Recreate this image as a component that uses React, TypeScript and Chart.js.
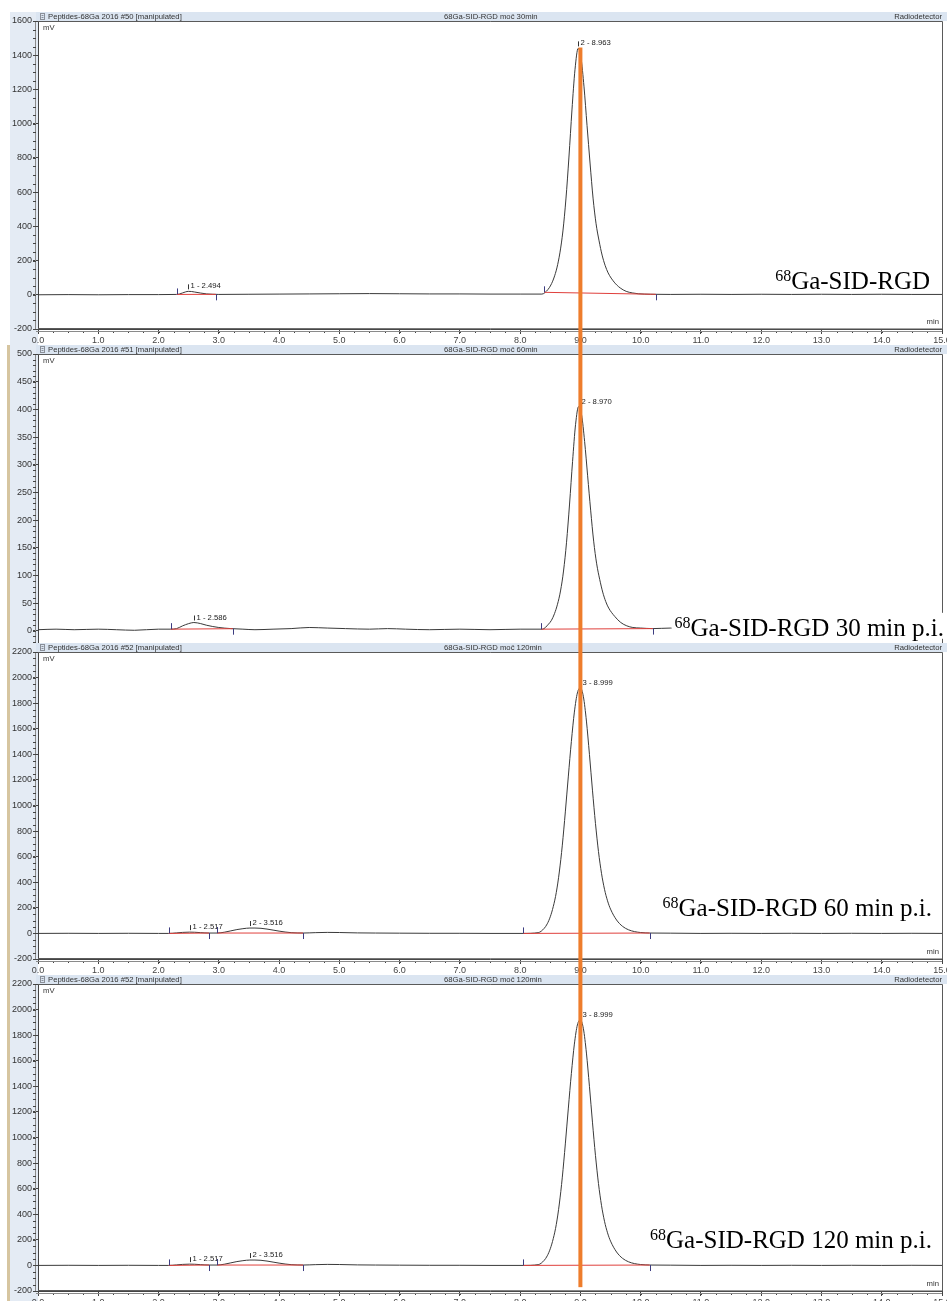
import React, { useEffect, useRef } from 'react';
import { Chart, registerables } from 'chart.js';

Chart.register(...registerables);

// ---------- shared axis data ----------
const X_TICKS = [0, 1, 2, 3, 4, 5, 6, 7, 8, 9, 10, 11, 12, 13, 14, 15];
const X_MINOR_STEP = 0.25;
const ORANGE_RT = 9.0;
const ORANGE_TOP_MV = 1445;
const ORANGE_BOTTOM_MV = -170;

const P1_Y_TICKS = [-200, 0, 200, 400, 600, 800, 1000, 1200, 1400, 1600];
const P2_Y_TICKS = [0, 50, 100, 150, 200, 250, 300, 350, 400, 450, 500];
const P3_Y_TICKS = [-200, 0, 200, 400, 600, 800, 1000, 1200, 1400, 1600, 1800, 2000, 2200];

const HEADER_LEFT = [
  'Peptides-68Ga 2016 #50 [manipulated]',
  'Peptides-68Ga 2016 #51 [manipulated]',
  'Peptides-68Ga 2016 #52 [manipulated]',
  'Peptides-68Ga 2016 #52 [manipulated]',
];
const HEADER_CENTER = [
  '68Ga-SID-RGD moč 30min',
  '68Ga-SID-RGD moč 60min',
  '68Ga-SID-RGD moč 120min',
  '68Ga-SID-RGD moč 120min',
];
const HEADER_RIGHT = 'Radiodetector';
const ISOTOPE = '68';
const SAMPLE_LABELS = [
  'Ga-SID-RGD',
  'Ga-SID-RGD 30 min p.i.',
  'Ga-SID-RGD 60 min p.i.',
  'Ga-SID-RGD 120 min p.i.',
];

// ---------- panel 1 (#50) ----------
const P1_TIME = [0, 0.5, 1.0, 1.5, 2.0, 2.3, 2.35, 2.4, 2.45, 2.494, 2.55, 2.6, 2.7, 2.8, 2.9, 3.0, 3.5, 4.0, 4.5, 5.0, 5.5, 6.0, 6.5, 7.0, 7.5, 8.0, 8.36, 8.46, 8.51, 8.56, 8.61, 8.66, 8.71, 8.76, 8.81, 8.86, 8.91, 8.963, 9.01, 9.06, 9.11, 9.16, 9.21, 9.26, 9.31, 9.36, 9.41, 9.46, 9.56, 9.66, 9.76, 9.86, 9.96, 10.16, 10.5, 11.0, 11.5, 12.0, 12.5, 13.0, 13.5, 14.0, 14.5, 15.0];
const P1_MV = [0, 1, 0, 1, 1, 2, 5, 11, 17, 20, 19, 16, 10, 5, 3, 2, 3, 4, 5, 6, 7, 6, 5, 5, 4, 4, 4, 30, 57, 98, 157, 245, 373, 560, 805, 1080, 1315, 1440, 1385, 1215, 990, 770, 565, 415, 315, 232, 172, 128, 74, 40, 20, 11, 6, 3, 2, 3, 2, 3, 2, 3, 2, 3, 2, 2];
const P1_PEAK_NAMES = ['1 - 2.494', '2 - 8.963'];
const P1_PEAK_RT = [2.494, 8.963];
const P1_PEAK_HEIGHT = [20, 1440];
const P1_PEAK_START = [2.3, 8.4];
const P1_PEAK_END = [2.95, 10.25];

// ---------- panel 2 (#51) ----------
const P2_TIME = [0, 0.3, 0.6, 1.0, 1.3, 1.6, 2.0, 2.2, 2.3, 2.4, 2.5, 2.586, 2.7, 2.8, 3.0, 3.2, 3.4, 3.6, 3.9, 4.2, 4.5, 4.8, 5.1, 5.5, 5.8, 6.1, 6.5, 7.0, 7.5, 8.0, 8.37, 8.47, 8.52, 8.57, 8.62, 8.67, 8.72, 8.77, 8.82, 8.87, 8.92, 8.97, 9.02, 9.07, 9.12, 9.17, 9.22, 9.27, 9.32, 9.37, 9.42, 9.47, 9.57, 9.67, 9.77, 9.87, 10.0, 10.2, 10.5, 10.8, 11.2, 11.6, 12.0, 12.4, 12.8, 13.2, 13.6, 14.0, 14.4, 14.8, 15.0];
const P2_MV = [2, 3, 2, 3, 2, 1, 3, 3, 4, 9, 13, 15, 13, 10, 6, 4, 3, 2, 3, 4, 6, 5, 4, 3, 4, 3, 2, 3, 2, 3, 3, 12, 19, 31, 48, 72, 108, 160, 229, 306, 373, 405, 390, 342, 280, 218, 162, 121, 93, 70, 53, 41, 26, 15, 9, 6, 5, 4, 5, 3, 4, 6, 4, 3, 5, 4, 3, 5, 3, 4, 4];
const P2_PEAK_NAMES = ['1 - 2.586', '2 - 8.970'];
const P2_PEAK_RT = [2.586, 8.97];
const P2_PEAK_HEIGHT = [15, 405];
const P2_PEAK_START = [2.2, 8.35];
const P2_PEAK_END = [3.23, 10.2];

// ---------- panels 3 & 4 (#52) ----------
const P3_TIME = [0, 0.5, 1.0, 1.5, 2.0, 2.17, 2.3, 2.4, 2.517, 2.6, 2.7, 2.84, 2.97, 3.1, 3.2, 3.3, 3.4, 3.516, 3.6, 3.7, 3.8, 3.9, 4.0, 4.1, 4.2, 4.4, 4.6, 4.8, 5.0, 5.3, 5.6, 6.0, 6.5, 7.0, 7.5, 8.05, 8.30, 8.40, 8.45, 8.50, 8.55, 8.60, 8.65, 8.70, 8.75, 8.80, 8.85, 8.90, 8.95, 8.999, 9.05, 9.10, 9.15, 9.20, 9.25, 9.30, 9.35, 9.40, 9.45, 9.50, 9.60, 9.70, 9.80, 9.90, 10.00, 10.15, 10.5, 11.0, 11.5, 12.0, 12.5, 13.0, 13.5, 14.0, 14.5, 15.0];
const P3_MV = [0, 1, 0, 1, 0, 0, 4, 8, 10, 9, 6, 3, 3, 10, 20, 30, 37, 42, 42, 40, 34, 26, 18, 11, 6, 3, 6, 8, 7, 4, 3, 2, 1, 1, 0, 0, 6, 40, 75, 130, 210, 320, 480, 690, 950, 1230, 1500, 1730, 1880, 1920, 1850, 1660, 1400, 1120, 860, 640, 470, 345, 255, 190, 105, 55, 28, 14, 7, 3, 2, 0, 1, 0, 1, 0, 1, 0, 1, 0];
const P3_PEAK_NAMES = ['1 - 2.517', '2 - 3.516', '3 - 8.999'];
const P3_PEAK_RT = [2.517, 3.516, 8.999];
const P3_PEAK_HEIGHT = [10, 42, 1920];
const P3_PEAK_START = [2.17, 2.97, 8.05];
const P3_PEAK_END = [2.84, 4.4, 10.15];

const SANS = '"Liberation Sans", Arial, sans-serif';
const SERIF = '"Liberation Serif", "Times New Roman", serif';
const W = 947;
const HEADER_H = 9;
const AXIS_W = 38;

type Peaks = { names: string[]; rt: number[]; height: number[]; start: number[]; end: number[] };
type Layout = {
  height: number;
  headerY: number;
  plotBottom: number;
  yMin: number;
  yMax: number;
  yMinorStep: number;
  showX: boolean;
  tan: boolean;
  labelRight: number;
  labelDy: number;
  orangeTop?: number;
  orangeBottom?: number;
};

function interp(time: number[], mv: number[], t: number) {
  for (let i = 1; i < time.length; i++) {
    if (t <= time[i]) {
      const f = (t - time[i - 1]) / (time[i] - time[i - 1]);
      return mv[i - 1] + f * (mv[i] - mv[i - 1]);
    }
  }
  return mv[mv.length - 1];
}

function Panel(props: { idx: number; time: number[]; mv: number[]; yTicks: number[]; peaks: Peaks; layout: Layout }) {
  const { idx, time, mv, yTicks, peaks, layout } = props;
  const ref = useRef<HTMLCanvasElement>(null);

  useEffect(() => {
    const canvas = ref.current;
    if (!canvas) return;
    const hy = layout.headerY;
    const plotTop = hy + HEADER_H;
    const xh = layout.height - layout.plotBottom;

    const panelPlugin = {
      id: 'panel' + idx,
      beforeDraw(chart: any) {
        const ctx = chart.ctx as CanvasRenderingContext2D;
        const { left, top } = chart.chartArea;
        const H = chart.height;
        ctx.save();
        ctx.fillStyle = '#ffffff';
        ctx.fillRect(0, 0, W, H);
        ctx.fillStyle = '#e4ebf4';
        ctx.fillRect(10, hy, left - 10, H - hy);
        if (layout.tan) {
          ctx.fillStyle = '#d6c5a0';
          ctx.fillRect(7, 0, 3, H);
        }
        // header strip
        ctx.fillStyle = '#dbe5f1';
        ctx.fillRect(left - 2, hy, W - left + 2, top - hy);
        ctx.strokeStyle = '#8a8f98';
        ctx.lineWidth = 1;
        ctx.strokeRect(40.5, hy + 1.5, 4, 6);
        ctx.beginPath();
        ctx.moveTo(41.5, hy + 3.5); ctx.lineTo(43.5, hy + 3.5);
        ctx.moveTo(41.5, hy + 5.5); ctx.lineTo(43.5, hy + 5.5);
        ctx.stroke();
        ctx.fillStyle = '#333';
        ctx.font = `7.7px ${SANS}`;
        ctx.textBaseline = 'middle';
        ctx.textAlign = 'left';
        ctx.fillText(HEADER_LEFT[idx], 48, hy + 4.8);
        ctx.fillText(HEADER_CENTER[idx], 444, hy + 4.8);
        ctx.textAlign = 'right';
        ctx.fillText(HEADER_RIGHT, 942, hy + 4.8);
        ctx.restore();
      },
      afterDatasetsDraw(chart: any) {
        const ctx = chart.ctx as CanvasRenderingContext2D;
        const { left, top, right, bottom } = chart.chartArea;
        const xs = chart.scales.x;
        const ys = chart.scales.y;
        ctx.save();
        // plot frame
        ctx.strokeStyle = '#5a5a5a';
        ctx.lineWidth = 1;
        ctx.beginPath();
        ctx.moveTo(left, top + 0.5); ctx.lineTo(right + 0.5, top + 0.5);
        ctx.lineTo(right + 0.5, bottom);
        if (layout.showX) ctx.lineTo(left, bottom - 0.5);
        ctx.stroke();
        ctx.strokeStyle = '#8a8a8a';
        ctx.beginPath();
        ctx.moveTo(left - 2.5, top); ctx.lineTo(left - 2.5, bottom);
        ctx.stroke();
        // minor y ticks
        ctx.strokeStyle = '#444';
        ctx.beginPath();
        for (let v = layout.yMin; v <= layout.yMax + 1e-6; v += 1) {
          const rv = Math.round(v);
          if (rv % layout.yMinorStep !== 0) continue;
          const y = Math.round(ys.getPixelForValue(rv)) + 0.5;
          if (y < top || y > bottom) continue;
          ctx.moveTo(left - 5, y); ctx.lineTo(left - 2, y);
        }
        ctx.stroke();
        // minor x ticks
        if (layout.showX) {
          ctx.beginPath();
          for (let k = 0; k <= 60; k++) {
            const v = k * X_MINOR_STEP;
            const x = Math.round(xs.getPixelForValue(v)) + 0.5;
            ctx.moveTo(x, bottom + 2); ctx.lineTo(x, bottom + 4);
          }
          ctx.stroke();
          ctx.strokeStyle = '#8a8a8a';
          ctx.beginPath();
          ctx.moveTo(left - 2, bottom + 2.5); ctx.lineTo(right, bottom + 2.5);
          ctx.stroke();
        }
        // peak baselines and delimiters
        for (let i = 0; i < peaks.names.length; i++) {
          const sx = xs.getPixelForValue(peaks.start[i]);
          const ex = xs.getPixelForValue(peaks.end[i]);
          const sy = ys.getPixelForValue(interp(time, mv, peaks.start[i]));
          const ey = ys.getPixelForValue(interp(time, mv, peaks.end[i]));
          ctx.strokeStyle = '#e0403c';
          ctx.lineWidth = 1;
          ctx.beginPath();
          ctx.moveTo(sx, sy); ctx.lineTo(ex, ey);
          ctx.stroke();
          ctx.strokeStyle = '#3c3c80';
          ctx.beginPath();
          ctx.moveTo(Math.round(sx) + 0.5, sy); ctx.lineTo(Math.round(sx) + 0.5, sy - 6);
          ctx.moveTo(Math.round(ex) + 0.5, ey); ctx.lineTo(Math.round(ex) + 0.5, ey + 6);
          ctx.stroke();
          const ax = Math.round(xs.getPixelForValue(peaks.rt[i])) + 0.5;
          const ay = ys.getPixelForValue(peaks.height[i]);
          ctx.strokeStyle = '#333';
          ctx.beginPath();
          ctx.moveTo(ax, ay - 2); ctx.lineTo(ax, ay - 7);
          ctx.stroke();
          ctx.fillStyle = '#222';
          ctx.font = `7.7px ${SANS}`;
          ctx.textAlign = 'left';
          ctx.textBaseline = 'middle';
          ctx.fillText(peaks.names[i], ax + 2, ay - 5);
        }
        // units
        ctx.fillStyle = '#333';
        ctx.font = `7.7px ${SANS}`;
        ctx.textAlign = 'left';
        ctx.textBaseline = 'middle';
        ctx.fillText('mV', left + 5, top + 7);
        if (layout.showX) {
          ctx.textAlign = 'right';
          ctx.fillText('min', right - 3, bottom - 7);
        }
        // sample label with superscript isotope
        const zeroY = ys.getPixelForValue(0);
        const cy = zeroY + layout.labelDy;
        const base = cy + 8;
        ctx.font = `25px ${SERIF}`;
        const wRest = ctx.measureText(SAMPLE_LABELS[idx]).width;
        ctx.font = `16px ${SERIF}`;
        const wSup = ctx.measureText(ISOTOPE).width;
        const x0 = layout.labelRight - wRest - wSup;
        ctx.fillStyle = '#ffffff';
        ctx.fillRect(x0 - 3, cy - 15, wRest + wSup + 6, 26);
        ctx.fillStyle = '#000';
        ctx.textAlign = 'left';
        ctx.textBaseline = 'alphabetic';
        ctx.fillText(ISOTOPE, x0, base - 8);
        ctx.font = `25px ${SERIF}`;
        ctx.fillText(SAMPLE_LABELS[idx], x0 + wSup, base);
        ctx.restore();
      },
      afterDraw(chart: any) {
        const ctx = chart.ctx as CanvasRenderingContext2D;
        const xs = chart.scales.x;
        const ys = chart.scales.y;
        const x = xs.getPixelForValue(ORANGE_RT);
        const y0 = layout.orangeTop !== undefined ? ys.getPixelForValue(layout.orangeTop) : 0;
        const y1 = layout.orangeBottom !== undefined ? ys.getPixelForValue(layout.orangeBottom) : chart.height;
        ctx.save();
        ctx.fillStyle = '#ee7d2c';
        ctx.fillRect(x - 2, y0, 4, y1 - y0);
        ctx.restore();
      },
    };

    const chart = new Chart(canvas, {
      type: 'line',
      data: {
        datasets: [
          {
            data: time.map((t, i) => ({ x: t, y: mv[i] })),
            borderColor: '#3a3a3a',
            borderWidth: 1,
            pointRadius: 0,
            fill: false,
            cubicInterpolationMode: 'monotone',
          },
        ],
      },
      options: {
        animation: false,
        responsive: false,
        maintainAspectRatio: false,
        events: [],
        layout: { padding: { top: plotTop, left: 0, right: 5, bottom: 0 } },
        plugins: { legend: { display: false }, tooltip: { enabled: false } },
        scales: {
          x: {
            type: 'linear',
            min: 0,
            max: 15,
            display: layout.showX,
            afterBuildTicks: (s: any) => {
              s.ticks = X_TICKS.map((v) => ({ value: v }));
            },
            afterFit: (s: any) => {
              s.height = xh;
              s.paddingLeft = 0;
              s.paddingRight = 0;
            },
            grid: { drawOnChartArea: false, drawTicks: true, tickLength: 5, color: '#444', tickColor: '#444' },
            border: { display: true, color: '#444' },
            ticks: {
              padding: 1,
              maxRotation: 0,
              autoSkip: false,
              color: '#444',
              font: { family: SANS, size: 9 },
              callback: (v: any) => Number(v).toFixed(1),
            },
          },
          y: {
            type: 'linear',
            min: layout.yMin,
            max: layout.yMax,
            afterBuildTicks: (s: any) => {
              s.ticks = yTicks.map((v) => ({ value: v }));
            },
            afterFit: (s: any) => {
              s.width = AXIS_W;
              s.paddingTop = 0;
              s.paddingBottom = 0;
            },
            grid: { drawOnChartArea: false, drawTicks: true, tickLength: 5, color: '#444', tickColor: '#444' },
            border: { display: true, color: '#444' },
            ticks: {
              padding: 1,
              color: '#333',
              font: { family: SANS, size: 9 },
              callback: (v: any) => String(v),
            },
          },
        },
      },
      plugins: [panelPlugin],
    } as any);
    return () => chart.destroy();
  }, []);

  return <canvas ref={ref} width={W} height={layout.height} style={{ display: 'block', width: W, height: layout.height }} />;
}

const PEAKS1: Peaks = { names: P1_PEAK_NAMES, rt: P1_PEAK_RT, height: P1_PEAK_HEIGHT, start: P1_PEAK_START, end: P1_PEAK_END };
const PEAKS2: Peaks = { names: P2_PEAK_NAMES, rt: P2_PEAK_RT, height: P2_PEAK_HEIGHT, start: P2_PEAK_START, end: P2_PEAK_END };
const PEAKS3: Peaks = { names: P3_PEAK_NAMES, rt: P3_PEAK_RT, height: P3_PEAK_HEIGHT, start: P3_PEAK_START, end: P3_PEAK_END };

const LAYOUTS: Layout[] = [
  { height: 345, headerY: 12, plotBottom: 329, yMin: -200, yMax: 1600, yMinorStep: 50, showX: true, tan: false, labelRight: 930, labelDy: -14, orangeTop: ORANGE_TOP_MV },
  { height: 298, headerY: 0, plotBottom: 298, yMin: -22, yMax: 500, yMinorStep: 10, showX: false, tan: true, labelRight: 944, labelDy: -3 },
  { height: 332, headerY: 0, plotBottom: 316, yMin: -200, yMax: 2200, yMinorStep: 50, showX: true, tan: true, labelRight: 932, labelDy: -25 },
  { height: 326, headerY: 0, plotBottom: 316, yMin: -200, yMax: 2200, yMinorStep: 50, showX: true, tan: true, labelRight: 932, labelDy: -25, orangeBottom: ORANGE_BOTTOM_MV },
];

export default function App() {
  return (
    <div style={{ position: 'absolute', left: 0, top: 0, width: W, height: 1301, background: '#fff', overflow: 'hidden' }}>
      <Panel idx={0} time={P1_TIME} mv={P1_MV} yTicks={P1_Y_TICKS} peaks={PEAKS1} layout={LAYOUTS[0]} />
      <Panel idx={1} time={P2_TIME} mv={P2_MV} yTicks={P2_Y_TICKS} peaks={PEAKS2} layout={LAYOUTS[1]} />
      <Panel idx={2} time={P3_TIME} mv={P3_MV} yTicks={P3_Y_TICKS} peaks={PEAKS3} layout={LAYOUTS[2]} />
      <Panel idx={3} time={P3_TIME} mv={P3_MV} yTicks={P3_Y_TICKS} peaks={PEAKS3} layout={LAYOUTS[3]} />
    </div>
  );
}
